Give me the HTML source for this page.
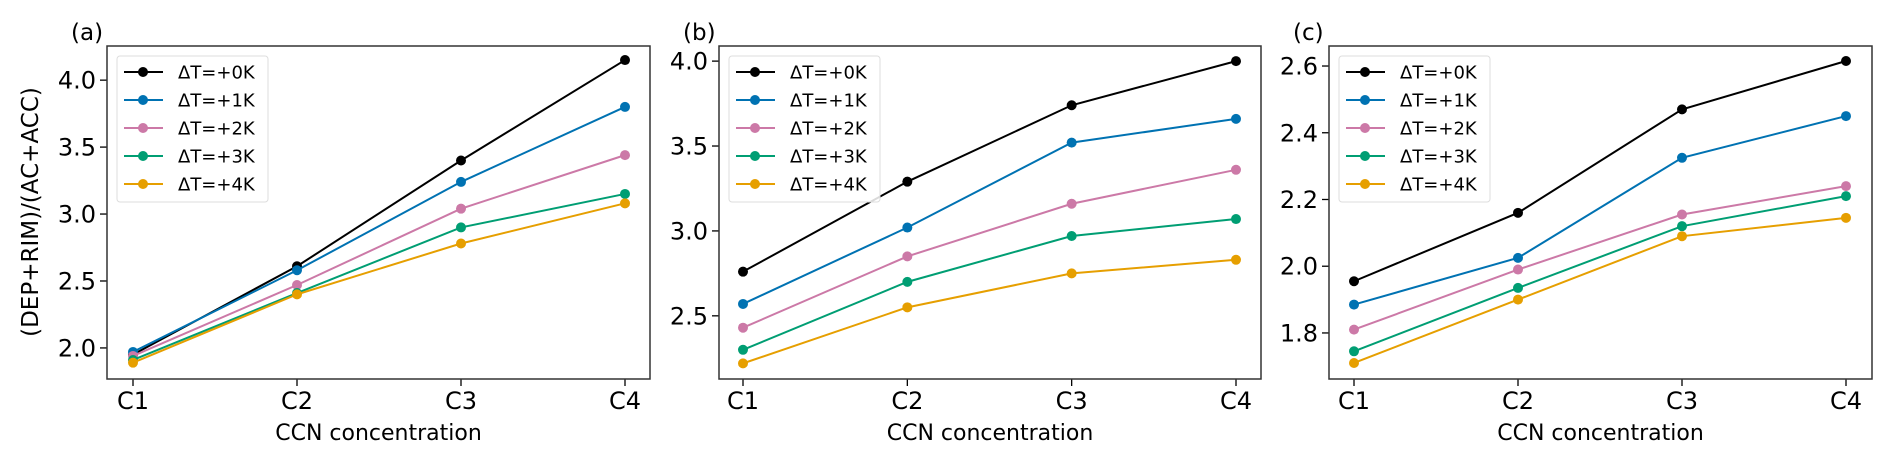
<!DOCTYPE html>
<html><head><meta charset="utf-8"><style>
html,body{margin:0;padding:0;background:#fff;}
svg{display:block;font-family:"DejaVu Sans","Liberation Sans",sans-serif;}
</style></head><body>
<svg id="chart" width="1892" height="460" viewBox="0 0 1892 460" xmlns="http://www.w3.org/2000/svg"></svg>
<script>
const categories = ["C1","C2","C3","C4"];
const seriesLabels = ["ΔT=+0K","ΔT=+1K","ΔT=+2K","ΔT=+3K","ΔT=+4K"];
const seriesColors = ["#000000","#0072B2","#CC79A7","#009E73","#E69F00"];
const panelLetters = ["(a)","(b)","(c)"];
const aBlack = [1.95, 2.61, 3.40, 4.15];
const aBlue = [1.97, 2.58, 3.24, 3.80];
const aPink = [1.94, 2.47, 3.04, 3.44];
const aGreen = [1.91, 2.41, 2.90, 3.15];
const aOrange = [1.89, 2.40, 2.78, 3.08];
const bBlack = [2.76, 3.29, 3.74, 4.00];
const bBlue = [2.57, 3.02, 3.52, 3.66];
const bPink = [2.43, 2.85, 3.16, 3.36];
const bGreen = [2.30, 2.70, 2.97, 3.07];
const bOrange = [2.22, 2.55, 2.75, 2.83];
const cBlack = [1.955, 2.16, 2.47, 2.615];
const cBlue = [1.885, 2.025, 2.325, 2.45];
const cPink = [1.81, 1.99, 2.155, 2.24];
const cGreen = [1.745, 1.935, 2.12, 2.21];
const cOrange = [1.71, 1.90, 2.09, 2.145];
const aTicks = [2.0, 2.5, 3.0, 3.5, 4.0];
const bTicks = [2.5, 3.0, 3.5, 4.0];
const cTicks = [1.8, 2.0, 2.2, 2.4, 2.6];
const aDomain = [1.768, 4.255];
const bDomain = [2.128, 4.089];
const cDomain = [1.662, 2.660];

const NS = "http://www.w3.org/2000/svg";
const svgEl = document.getElementById("chart");
function mk(tag, attrs, parent){
  const e = document.createElementNS(NS, tag);
  for (const k in attrs) e.setAttribute(k, attrs[k]);
  (parent||svgEl).appendChild(e);
  return e;
}
const panels = [
  {left:107, right:650, c1:133, c4:625, series:[aBlack,aBlue,aPink,aGreen,aOrange], ticks:aTicks, dom:aDomain},
  {left:719, right:1261, c1:743, c4:1236, series:[bBlack,bBlue,bPink,bGreen,bOrange], ticks:bTicks, dom:bDomain},
  {left:1329, right:1872, c1:1354, c4:1846, series:[cBlack,cBlue,cPink,cGreen,cOrange], ticks:cTicks, dom:cDomain}
];
const plotTop = 46, plotBottom = 379;
panels.forEach((p, pi) => {
  const g = mk("g", {});
  
  
  const xs = i => p.c1 + (p.c4 - p.c1) * i / (categories.length - 1);
  const ys = v => plotBottom - (v - p.dom[0]) / (p.dom[1] - p.dom[0]) * (plotBottom - plotTop);
  const lt = mk("text", {x: p.left - 36, y: 40, "font-size": 23, fill: "#000"}, g);
  lt.textContent = panelLetters[pi];
  
  
  p.ticks.forEach(t => {
    const y = ys(t);
    const tk = mk("line", {x1: p.left - 7, x2: p.left, y1: y, y2: y, stroke: "#000", "stroke-width": 1.3}, g);
    
    
    const tl = mk("text", {x: p.left - 11, y: y + 8.5, "font-size": 24, "text-anchor": "end", fill: "#000"}, g);
    tl.textContent = t.toFixed(1);
    
    
  });
  categories.forEach((c, i) => {
    const x = xs(i);
    const tk = mk("line", {x1: x, x2: x, y1: plotBottom, y2: plotBottom + 7, stroke: "#000", "stroke-width": 1.3}, g);
    
    
    const tl = mk("text", {x: x, y: 409, "font-size": 24, "text-anchor": "middle", fill: "#000"}, g);
    tl.textContent = c;
    
    
  });
  const xl = mk("text", {x: (p.left + p.right) / 2, y: 440, "font-size": 22, "text-anchor": "middle", fill: "#000"}, g);
  xl.textContent = "CCN concentration";
  
  
  p.series.forEach((vals, si) => {
    const pts = vals.map((v, i) => xs(i) + "," + ys(v)).join(" ");
    const pl = mk("polyline", {points: pts, fill: "none", stroke: seriesColors[si], "stroke-width": 2}, g);
    
    
    vals.forEach((v, i) => {
      const m = mk("circle", {cx: xs(i), cy: ys(v), r: 5, fill: seriesColors[si]}, g);
      
      
    });
  });
  const fr = mk("rect", {x: p.left, y: plotTop, width: p.right - p.left, height: plotBottom - plotTop, fill: "none", stroke: "#333", "stroke-width": 1.5}, g);
  
  
  const lx = p.left + 10;
  const lg = mk("g", {}, g);
  
  
  mk("rect", {x: lx, y: 56, width: 151, height: 146, rx: 3, fill: "#fff", "fill-opacity": 0.85, stroke: "#ddd", "stroke-width": 1}, lg);
  seriesLabels.forEach((s, si) => {
    const y = 72 + si * 28;
    const e = mk("g", {}, lg);
    
    
    mk("line", {x1: lx + 7, x2: lx + 46, y1: y, y2: y, stroke: seriesColors[si], "stroke-width": 2}, e);
    mk("circle", {cx: lx + 26, cy: y, r: 5, fill: seriesColors[si]}, e);
    const t = mk("text", {x: lx + 61, y: y + 6.5, "font-size": 18, fill: "#000"}, e);
    t.textContent = s;
  });
});
const yl = mk("text", {x: 0, y: 0, "font-size": 23, "text-anchor": "middle", fill: "#000", transform: "translate(38,212) rotate(-90)"});
yl.textContent = "(DEP+RIM)/(AC+ACC)";


</script>
</body></html>
